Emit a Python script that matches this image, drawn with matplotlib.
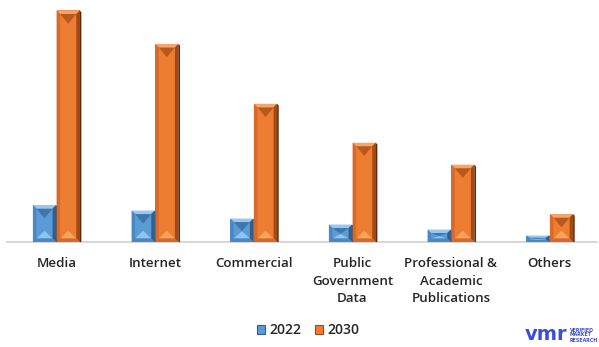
import matplotlib
matplotlib.use("Agg")
import matplotlib.pyplot as plt
from matplotlib.patches import Polygon, Patch
import numpy as np

categories = ["Media", "Internet", "Commercial", "Public\nGovernment\nData",
              "Professional &\nAcademic\nPublications", "Others"]
years = ["2022", "2030"]
values_2022 = [3.70, 3.15, 2.35, 1.75, 1.25, 0.65]
values_2030 = [23.20, 19.85, 13.85, 9.95, 7.75, 2.80]

colors = {"2022": "#5b9bd5", "2030": "#ed7d31"}
shades = {
    "2022": dict(top="#3f77ad", bottom="#8fc3f0", left="#4a88c4", right="#2f5f8f",
                 rim="#9cc6ee", shadow="#1f3b5c"),
    "2030": dict(top="#b8581d", bottom="#f7a35c", left="#d9692a", right="#a24a15",
                 rim="#f4a56a", shadow="#5a2a0a"),
}

W, H, DPI = 599, 347, 100
fig = plt.figure(figsize=(W / DPI, H / DPI), dpi=DPI)
ax_left, ax_right, ax_base, ax_top = 7, 599, 105, 347
ax = fig.add_axes([ax_left / W, ax_base / H, (ax_right - ax_left) / W, (ax_top - ax_base) / H])
ax.set_xlim(-0.5, len(categories) - 0.5)
ax.set_ylim(0, 24.25)
ax.axis("off")

px_x = (ax_right - ax_left) / len(categories)   # pixels per x unit
px_y = (ax_top - ax_base) / 24.25                # pixels per y unit

x = np.arange(len(categories))
bw = 0.235
off = 0.12


def bevel(bar, key):
    s = shades[key]
    x0, y0 = bar.get_x(), bar.get_y()
    x1, y1 = x0 + bar.get_width(), y0 + bar.get_height()
    bx, by = 3.5 / px_x, 3.5 / px_y
    bx = min(bx, (x1 - x0) / 3)
    by = min(by, (y1 - y0) / 3)
    xc = (x0 + x1) / 2
    inner_h = y1 - y0 - 2 * by
    tri = min((x1 - x0 - 2 * bx) * 0.6 * px_x / px_y, inner_h * 0.55)
    polys = [
        # inner face: dark triangle under the top, light one at the foot
        ([(x0 + bx, y1 - by), (x1 - bx, y1 - by), (xc, y1 - by - tri)], s["top"]),
        ([(x0 + bx, y0 + by), (x1 - bx, y0 + by), (xc, y0 + by + tri * 0.8)], s["bottom"]),
        # frame of the bevel
        ([(x0, y1), (x1, y1), (x1 - bx, y1 - by), (x0 + bx, y1 - by)], s["rim"]),
        ([(x0, y0), (x0 + bx, y0 + by), (x0 + bx, y1 - by), (x0, y1)], s["left"]),
        ([(x1, y0), (x1, y1), (x1 - bx, y1 - by), (x1 - bx, y0 + by)], s["right"]),
        ([(x0, y0), (x1, y0), (x1 - bx, y0 + by), (x0 + bx, y0 + by)], s["left"]),
    ]
    for pts, c in polys:
        ax.add_patch(Polygon(pts, closed=True, facecolor=c, edgecolor="none", zorder=3))
    # thin drop shadow along the right side
    sw = 1.6 / px_x
    ax.add_patch(Polygon([(x1, y0), (x1 + sw, y0), (x1 + sw, y1 - by * 0.5), (x1, y1)],
                         closed=True, facecolor=s["shadow"], edgecolor="none", zorder=3))


bars_a = ax.bar(x - off, values_2022, bw, color=colors["2022"], zorder=2)
bars_b = ax.bar(x + off, values_2030, bw, color=colors["2030"], zorder=2)
for b in bars_a:
    bevel(b, "2022")
for b in bars_b:
    bevel(b, "2030")

ax.plot([-0.5, len(categories) - 0.52], [0, 0], color="#d0d0d0", lw=1.2, zorder=1,
        clip_on=False)

font = dict(family=["Open Sans", "DejaVu Sans"], weight="semibold", color="#262626")
for xi, label in zip(x, categories):
    ax.text(xi, -1.55, label, ha="center", va="top", fontsize=9.6,
            linespacing=1.45, **font)

handles = [Patch(facecolor=colors[k], edgecolor=shades[k]["right"], lw=0.8) for k in years]
leg = fig.legend(handles, years, loc="center", bbox_to_anchor=(308 / W, 1 - 330 / H),
                 ncol=2, frameon=False, handlelength=0.6, handleheight=0.6,
                 handletextpad=0.3, columnspacing=1.0,
                 prop=dict(family=["Open Sans", "DejaVu Sans"], weight="semibold", size=10))
for t in leg.get_texts():
    t.set_color("#262626")

# brand mark
fig.text(567 / W, 1 - 335 / H, "vmr", ha="right", va="center", fontsize=14,
         weight="bold", color="#3a4fd6", family=["DejaVu Sans"])
fig.text(570 / W, 1 - 335 / H, "VERIFIED\nMARKET\nRESEARCH", ha="left", va="center",
         fontsize=3.4, weight="bold", color="#3a4fd6", linespacing=1.0,
         family=["DejaVu Sans"])

fig.savefig("out.png", dpi=DPI)
